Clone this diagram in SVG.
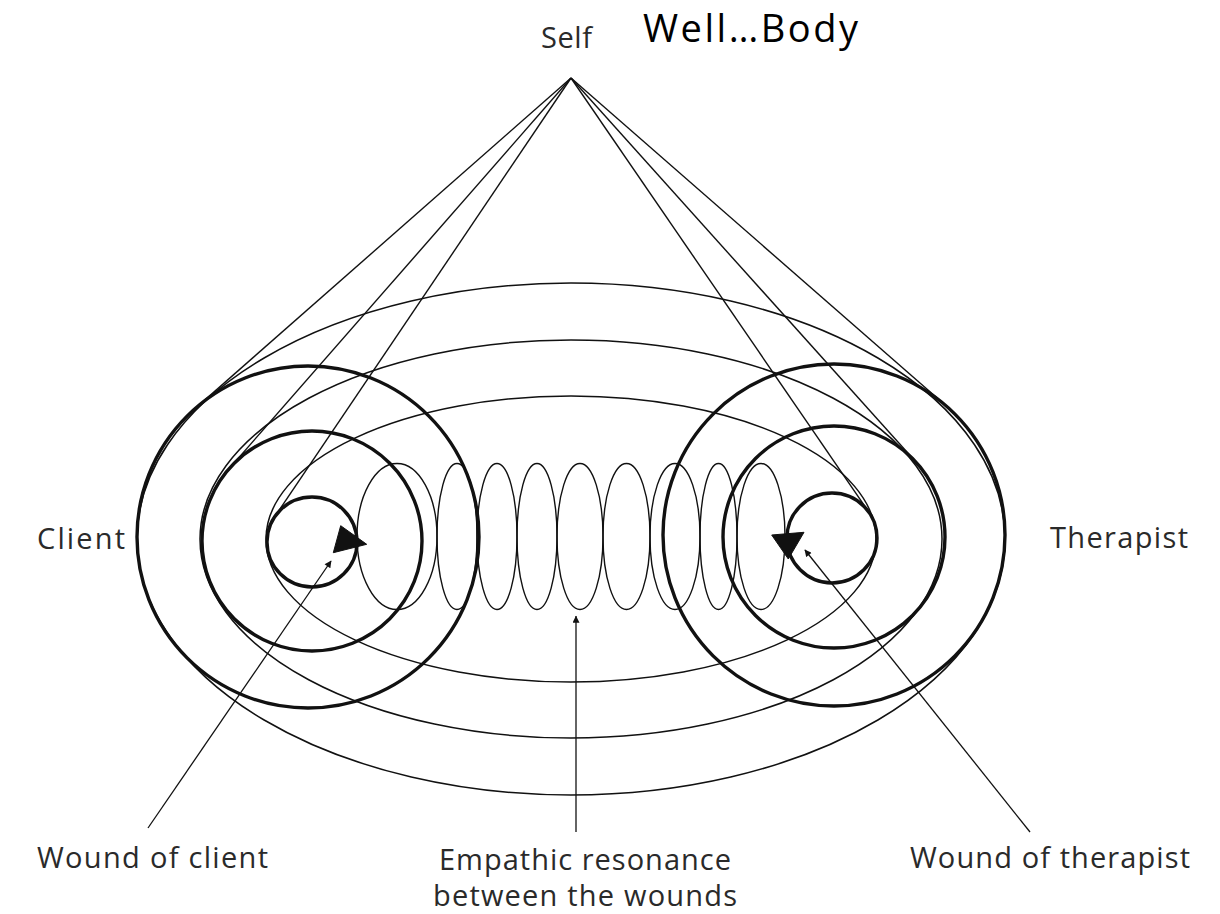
<svg xmlns="http://www.w3.org/2000/svg" width="1220" height="914" viewBox="0 0 1220 914">
<style>
.bg{fill:#fff}
.thick{fill:none;stroke:#111;stroke-width:3.4}
.thin{fill:none;stroke:#111;stroke-width:1.5}
.coil{fill:none;stroke:#111;stroke-width:1.4}
.ray{stroke:#111;stroke-width:1.4;fill:none}
.ptr{stroke:#111;stroke-width:1.3;fill:none}
.head{fill:#111;stroke:#111;stroke-width:1}
.lbl{font-family:"Open Sans","Liberation Sans",sans-serif;font-size:29px;fill:#2a2a2a}
.title{font-family:"Open Sans","Liberation Sans",sans-serif;font-size:38px;fill:#000}
</style>
<defs>
<marker id="arr" viewBox="0 0 10 10" refX="9" refY="5" markerWidth="9" markerHeight="7" markerUnits="userSpaceOnUse" orient="auto">
<path d="M0,0 L10,5 L0,10 Z" fill="#111"/>
</marker>
<marker id="arrC" viewBox="0 0 10 10" refX="9.5" refY="5" markerWidth="13" markerHeight="7" markerUnits="userSpaceOnUse" orient="auto">
<path d="M0,0 L10,5 L0,10 Z" fill="#111"/>
</marker>
</defs>
<rect class="bg" x="0" y="0" width="1220" height="914"/>

<g id="connectors">
<g id="rays">
<line class="ray" x1="571" y1="78" x2="195.1" y2="408.6"/>
<line class="ray" x1="571" y1="78" x2="229.2" y2="468.6"/>
<line class="ray" x1="571" y1="78" x2="274.7" y2="516.8"/>
<line class="ray" x1="571" y1="78" x2="946.6" y2="406.3"/>
<line class="ray" x1="571" y1="78" x2="916.6" y2="462.8"/>
<line class="ray" x1="571" y1="78" x2="869.1" y2="512.5"/>
</g>
<g id="relations">
<ellipse class="thin" cx="571" cy="539" rx="434" ry="256"/>
<ellipse class="thin" cx="571" cy="539" rx="371" ry="199"/>
<ellipse class="thin" cx="571" cy="539" rx="305" ry="143"/>
</g>
<g id="resonance">
<ellipse class="coil" cx="397" cy="536.5" rx="40" ry="73"/>
<ellipse class="coil" cx="457" cy="536.5" rx="20" ry="73"/>
<ellipse class="coil" cx="497" cy="536.5" rx="20" ry="73"/>
<ellipse class="coil" cx="537" cy="536.5" rx="20" ry="73"/>
<ellipse class="coil" cx="580" cy="536.5" rx="23" ry="73"/>
<ellipse class="coil" cx="626.5" cy="536.5" rx="23.5" ry="73"/>
<ellipse class="coil" cx="675" cy="536.5" rx="25" ry="73"/>
<ellipse class="coil" cx="718.5" cy="536.5" rx="18.5" ry="73"/>
<ellipse class="coil" cx="761" cy="536.5" rx="24" ry="73"/>
</g>
<g id="pointers">
<line class="ptr" x1="148" y1="828" x2="331" y2="561" marker-end="url(#arr)"/>
<line class="ptr" x1="1030" y1="832" x2="805" y2="550" marker-end="url(#arr)"/>
<line class="ptr" x1="576" y1="832" x2="576" y2="616" marker-end="url(#arrC)"/>
</g>
</g>

<g id="client">
<circle class="thick" cx="308" cy="537" r="171"/>
<circle class="thick" cx="312" cy="541" r="110"/>
<circle class="thick" cx="312" cy="542" r="45"/>
<polygon class="head" points="340.7,525.7 333.3,552.7 366.7,544.3"/>
<text class="lbl" x="37" y="549" textLength="88" lengthAdjust="spacing">Client</text>
</g>

<g id="therapist">
<circle class="thick" cx="834" cy="535" r="171"/>
<circle class="thick" cx="834" cy="537" r="111"/>
<circle class="thick" cx="832" cy="538" r="45"/>
<polygon class="head" points="771.7,535 804,532.3 788.3,559"/>
<text class="lbl" x="1050" y="548" textLength="138" lengthAdjust="spacing">Therapist</text>
</g>

<g id="self">
<text class="lbl" x="541" y="48" textLength="51" lengthAdjust="spacing">Self</text>
</g>

<g id="title">
<text class="title" x="643" y="42" textLength="215" lengthAdjust="spacing">Well…Body</text>
</g>

<g id="label-wound-client">
<text class="lbl" x="37" y="868" textLength="231" lengthAdjust="spacing">Wound of client</text>
</g>
<g id="label-resonance">
<text class="lbl" x="439" y="870" textLength="292" lengthAdjust="spacing">Empathic resonance</text>
<text class="lbl" x="433" y="906" textLength="304" lengthAdjust="spacing">between the wounds</text>
</g>
<g id="label-wound-therapist">
<text class="lbl" x="910" y="868" textLength="280" lengthAdjust="spacing">Wound of therapist</text>
</g>
</svg>
